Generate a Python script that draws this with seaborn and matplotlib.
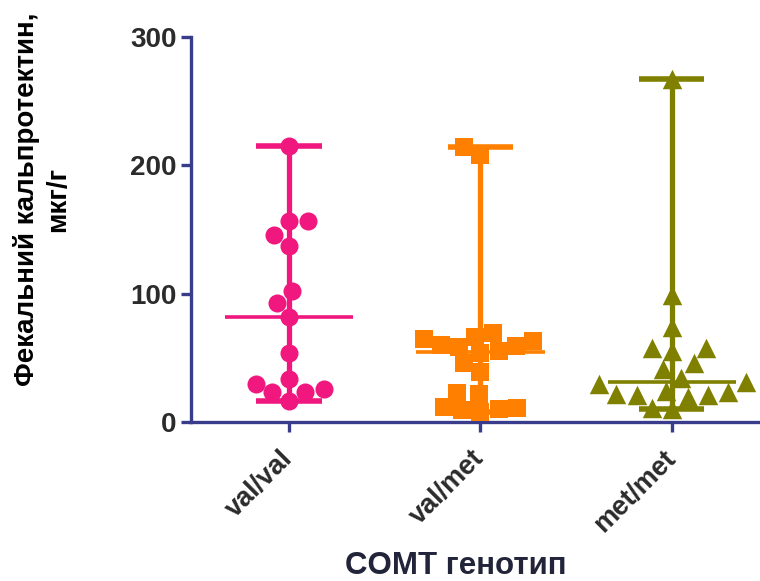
import numpy as np
import pandas as pd
import matplotlib
matplotlib.use("Agg")
import matplotlib.pyplot as plt
import seaborn as sns

categories = ["val/val", "val/met", "met/met"]
vals_valval = [215, 157, 157, 146, 137, 102, 93, 82, 53.5, 33.5, 30, 23.6, 23, 25.7, 16.4]
vals_valmet = [214, 208, 65, 69.6, 66.5, 60, 58.7, 59, 63, 55.3, 53.5, 45.7, 39.2,
               22.3, 21.5, 12, 10, 8, 9.4, 10.7]
vals_metmet = [267, 99, 74, 58, 58, 55, 45.7, 41, 34, 31, 30, 23, 24.4, 19.7, 21, 21.5,
               21, 10, 10.7]
y_ticks = [0, 100, 200, 300]

colors = ["#f0177f", "#ff8000", "#808000"]
markers = ["o", "s", "^"]
sizes = [13, 12.5, 14]

sns.set_theme(style="ticks")
plt.rcParams["font.family"] = ["Liberation Sans", "DejaVu Sans"]

fig = plt.figure(figsize=(7.6, 5.81), dpi=100)
ax = fig.add_axes([191 / 760, 1 - 422 / 581, (760 - 191) / 760, (422 - 37) / 581])

groups = [vals_valval, vals_valmet, vals_metmet]
spine_col = "#383c8a"

for i, (vals, c, m, s) in enumerate(zip(groups, colors, markers, sizes)):
    arr = np.asarray(vals, dtype=float)
    lo, hi, med = arr.min(), arr.max(), np.median(arr)
    ax.vlines(i, lo, hi, color=c, lw=3.8, zorder=2)
    ax.hlines([lo, hi], i - 0.17, i + 0.17, color=c, lw=4.0, zorder=2)
    ax.hlines(med, i - 0.335, i + 0.335, color=c, lw=2.6, zorder=2)
    df = pd.DataFrame({"g": [categories[i]] * len(vals), "v": vals})
    sns.swarmplot(data=df, x="g", y="v", order=categories, color=c, marker=m,
                  size=s, linewidth=0, ax=ax, zorder=3, warn_thresh=1.0)

ax.set_xlim(-0.512, 2.46)
ax.set_ylim(0, 300)
ax.set_yticks(y_ticks)
ax.set_xticks(range(len(categories)))
ax.set_xticklabels(categories, rotation=45, ha="right", va="center",
                   rotation_mode="anchor")
ax.set_xlabel("")
ax.set_ylabel("")

for sp in ["top", "right"]:
    ax.spines[sp].set_visible(False)
for sp in ["left", "bottom"]:
    ax.spines[sp].set_color(spine_col)
    ax.spines[sp].set_linewidth(2.4)
ax.spines["left"].set_bounds(0, 300)

ax.tick_params(axis="both", direction="out", length=7.5, width=2.4, color=spine_col)
ax.tick_params(axis="y", labelsize=20, pad=3, labelcolor="#2b2b2b")
ax.tick_params(axis="x", labelsize=19.5, pad=16, labelcolor="#2b2b2b")
for lab in ax.get_xticklabels() + ax.get_yticklabels():
    lab.set_fontweight("bold")

fig.text(42 / 760, 1 - 199 / 581, "Фекальний кальпротектин,\nмкг/г", rotation=90,
         ha="center", va="center", multialignment="center", fontsize=20,
         fontweight="bold", color="black", linespacing=1.25)
fig.text(456 / 760, 1 - 566 / 581, "COMT генотип", ha="center", va="center",
         fontsize=22.5, fontweight="bold", color="#22253a")

fig.savefig("out.png", dpi=100)
